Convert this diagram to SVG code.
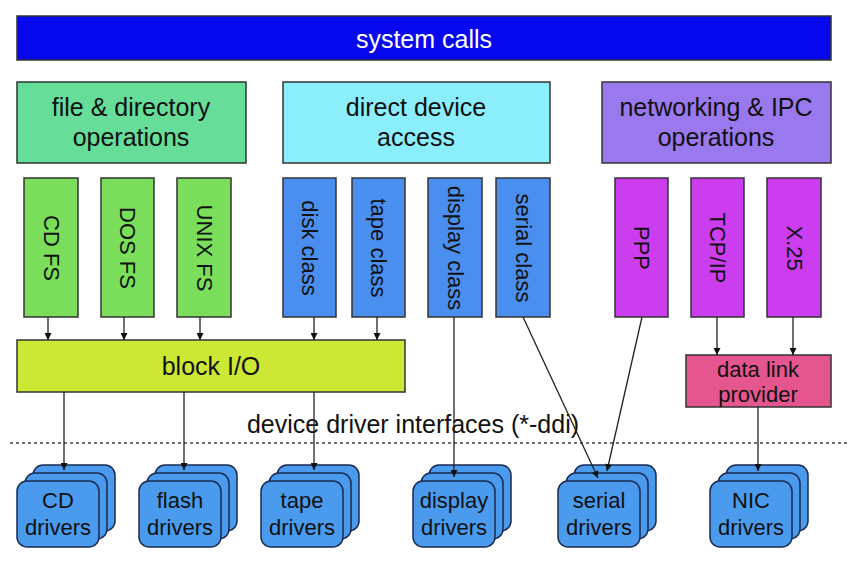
<svg xmlns="http://www.w3.org/2000/svg" width="850" height="566" viewBox="0 0 850 566">
<defs>
<marker id="ah" viewBox="0 0 10 10" refX="10" refY="5" markerWidth="7" markerHeight="7" markerUnits="userSpaceOnUse" orient="auto">
<path d="M0,0 L10,5 L0,10 z" fill="#111"/>
</marker>
<g id="stack">
<rect x="16" y="-16" width="82" height="66" rx="10" class="drv"/>
<rect x="8" y="-8" width="82" height="66" rx="10" class="drv"/>
<rect x="0" y="0" width="82" height="66" rx="10" class="drv"/>
</g>
</defs>
<style>
text{font-family:"Liberation Sans",Arial,sans-serif;fill:#111;text-anchor:middle}
.box{stroke:#333;stroke-width:1.5}
.drv{fill:#4a9bee;stroke:#1a2a50;stroke-width:1.5}
.h{font-size:25px}
.r{font-size:22px;dominant-baseline:central}
.d{font-size:22px}
.ln{stroke:#222;stroke-width:1.3;fill:none}
.ar{marker-end:url(#ah)}
.fs{fill:#7ade5a}
.cls{fill:#4a8ff0}
.net{fill:#cc3def}
</style>
<rect width="850" height="566" fill="#fff"/>

<g id="syscalls">
<rect x="17" y="16" width="814" height="44" fill="#0808ee" class="box"/>
<text x="424" y="48" class="h" style="fill:#fff">system calls</text>
</g>
<g id="filedir">
<rect x="17" y="82" width="229" height="81" fill="#66dd99" class="box"/>
<text x="131" y="116" class="h">file &amp; directory</text>
<text x="131" y="146" class="h">operations</text>
</g>
<g id="directdev">
<rect x="283" y="82" width="267" height="81" fill="#8aeefc" class="box"/>
<text x="416" y="116" class="h">direct device</text>
<text x="416" y="146" class="h">access</text>
</g>
<g id="netipc">
<rect x="602" y="82" width="229" height="81" fill="#9a78ee" class="box"/>
<text x="716" y="116" class="h">networking &amp; IPC</text>
<text x="716" y="146" class="h">operations</text>
</g>

<g id="cdfs"><rect x="24" y="178" width="54" height="139" class="box fs"/><text class="r" transform="translate(51,248) rotate(90)">CD FS</text></g>
<g id="dosfs"><rect x="101" y="178" width="53" height="139" class="box fs"/><text class="r" transform="translate(127.5,248) rotate(90)">DOS FS</text></g>
<g id="unixfs"><rect x="177" y="178" width="54" height="139" class="box fs"/><text class="r" transform="translate(204,248) rotate(90)">UNIX FS</text></g>
<g id="diskclass"><rect x="283" y="178" width="53" height="139" class="box cls"/><text class="r" transform="translate(309.5,248) rotate(90)">disk class</text></g>
<g id="tapeclass"><rect x="352" y="178" width="53" height="139" class="box cls"/><text class="r" transform="translate(378.5,248) rotate(90)">tape class</text></g>
<g id="displayclass"><rect x="428" y="178" width="54" height="139" class="box cls"/><text class="r" transform="translate(455,248) rotate(90)">display class</text></g>
<g id="serialclass"><rect x="496" y="178" width="54" height="139" class="box cls"/><text class="r" transform="translate(523,248) rotate(90)">serial class</text></g>
<g id="ppp"><rect x="615" y="178" width="53" height="139" class="box net"/><text class="r" transform="translate(641.5,248) rotate(90)">PPP</text></g>
<g id="tcpip"><rect x="691" y="178" width="53" height="139" class="box net"/><text class="r" transform="translate(717.5,248) rotate(90)">TCP/IP</text></g>
<g id="x25"><rect x="767" y="178" width="54" height="139" class="box net"/><text class="r" transform="translate(794,248) rotate(90)">X.25</text></g>

<g id="blockio">
<rect x="17" y="340" width="388" height="52" fill="#cde834" class="box"/>
<text x="211" y="375" class="h">block I/O</text>
</g>
<g id="datalink">
<rect x="686" y="355" width="145" height="52" fill="#e5568f" class="box"/>
<text x="758" y="377" class="d">data link</text>
<text x="758" y="402" class="d">provider</text>
</g>

<g id="ddi">
<line x1="10" y1="443" x2="848" y2="443" stroke="#444" stroke-width="1.3" stroke-dasharray="3,3"/>
<text x="413" y="433" class="h">device driver interfaces (*-ddi)</text>
</g>

<g id="cddrivers"><use href="#stack" x="17" y="481"/><text x="58" y="508" class="d">CD</text><text x="58" y="535" class="d">drivers</text></g>
<g id="flashdrivers"><use href="#stack" x="139" y="481"/><text x="180" y="508" class="d">flash</text><text x="180" y="535" class="d">drivers</text></g>
<g id="tapedrivers"><use href="#stack" x="261" y="481"/><text x="302" y="508" class="d">tape</text><text x="302" y="535" class="d">drivers</text></g>
<g id="displaydrivers"><use href="#stack" x="413" y="481"/><text x="454" y="508" class="d">display</text><text x="454" y="535" class="d">drivers</text></g>
<g id="serialdrivers"><use href="#stack" x="558" y="481"/><text x="599" y="508" class="d">serial</text><text x="599" y="535" class="d">drivers</text></g>
<g id="nicdrivers"><use href="#stack" x="710" y="481"/><text x="751" y="508" class="d">NIC</text><text x="751" y="535" class="d">drivers</text></g>

<g id="connectors">
<line x1="48" y1="317" x2="48" y2="340" class="ln ar"/>
<line x1="124" y1="317" x2="124" y2="340" class="ln ar"/>
<line x1="200" y1="317" x2="200" y2="340" class="ln ar"/>
<line x1="314" y1="317" x2="314" y2="340" class="ln ar"/>
<line x1="377" y1="317" x2="377" y2="340" class="ln ar"/>
<line x1="717" y1="317" x2="717" y2="355" class="ln ar"/>
<line x1="793" y1="317" x2="793" y2="355" class="ln ar"/>
<line x1="64" y1="392" x2="64" y2="470" class="ln ar"/>
<line x1="184" y1="392" x2="184" y2="470" class="ln ar"/>
<line x1="314" y1="392" x2="314" y2="470" class="ln ar"/>
<line x1="454" y1="317" x2="454" y2="477" class="ln ar"/>
<line x1="523" y1="317" x2="598" y2="478" class="ln ar"/>
<line x1="642" y1="317" x2="607" y2="471" class="ln ar"/>
<line x1="758" y1="407" x2="758" y2="471" class="ln ar"/>
</g>
</svg>
